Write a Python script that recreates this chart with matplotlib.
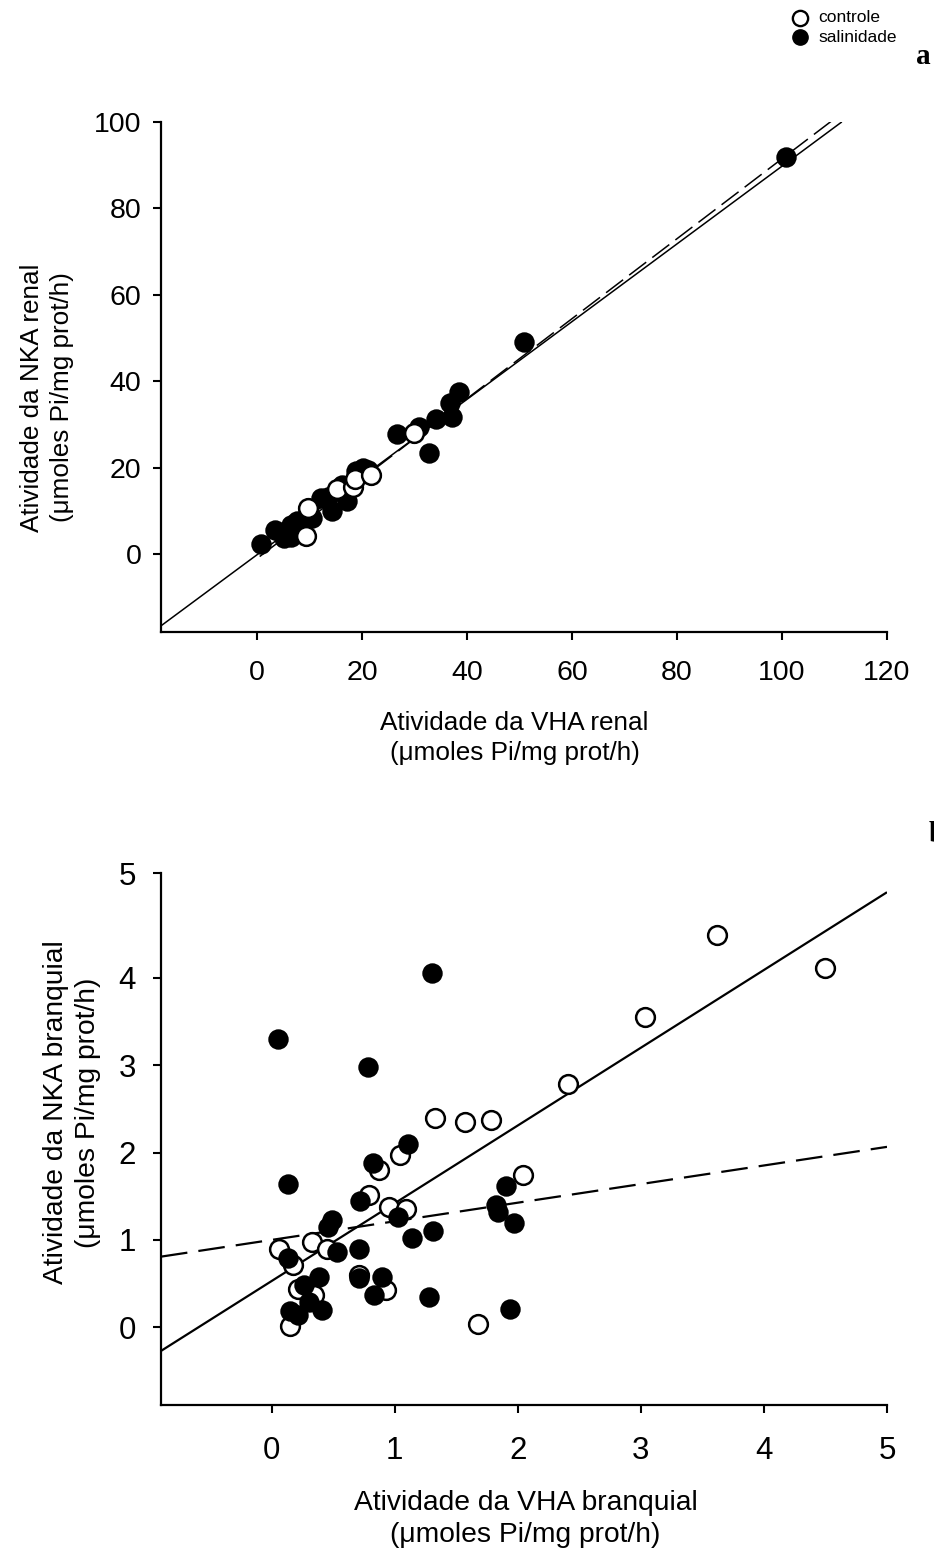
import matplotlib
matplotlib.use("Agg")
import matplotlib.pyplot as plt
import numpy as np

plt.rcParams['font.family'] = ['Liberation Sans', 'DejaVu Sans']

# ---------------- data: panel a (renal) ----------------
a_sal_x = [0.8, 3.4, 5.1, 6.5, 6.5, 7.6, 8.8, 9.7, 10.5, 12.2, 13.5, 14.3, 15.6, 16.2,
           17.1, 18.9, 20.2, 21.1, 26.7, 30.9, 32.8, 34.1, 37.1, 36.8, 38.5, 50.9, 100.8]
a_sal_y = [2.3, 5.5, 3.7, 3.9, 6.7, 7.6, 8.0, 9.2, 8.3, 12.9, 13.3, 9.9, 14.7, 15.9,
           12.4, 19.3, 20.0, 19.5, 27.8, 29.4, 23.4, 31.3, 31.7, 34.9, 37.5, 49.2, 92.0]
a_con_x = [9.3, 9.7, 15.2, 18.3, 18.7, 21.7, 29.9]
a_con_y = [4.1, 10.8, 15.2, 15.6, 17.5, 18.4, 28.0]
# regression lines (slope, intercept, x-range)
a_solid = (0.899, -0.12, -18.3, 111.4)
a_dash = (0.925, -1.0, 0.5, 110.0)

# ---------------- data: panel b (branquial) ----------------
b_sal_x = [1.30, 0.05, 0.78, 1.11, 0.82, 0.13, 0.72, 0.49, 0.46, 1.03, 1.90, 1.82, 1.84,
           1.97, 1.31, 1.14, 0.53, 0.71, 0.13, 0.38, 0.71, 0.90, 0.26, 0.83, 1.28, 0.30,
           0.15, 0.41, 0.21, 1.94]
b_sal_y = [4.05, 3.30, 2.98, 2.10, 1.88, 1.64, 1.44, 1.23, 1.15, 1.26, 1.62, 1.40, 1.32,
           1.19, 1.10, 1.02, 0.86, 0.90, 0.79, 0.58, 0.56, 0.58, 0.48, 0.37, 0.35, 0.29,
           0.19, 0.20, 0.14, 0.21]
b_con_x = [1.33, 1.57, 1.78, 1.04, 0.87, 2.04, 0.79, 0.95, 1.09, 0.33, 0.06, 0.45, 0.17,
           0.71, 0.93, 0.21, 0.34, 0.15, 1.68, 2.41, 3.03, 3.62, 4.50]
b_con_y = [2.40, 2.35, 2.37, 1.97, 1.80, 1.74, 1.51, 1.38, 1.35, 0.98, 0.90, 0.90, 0.71,
           0.60, 0.43, 0.44, 0.37, 0.02, 0.04, 2.79, 3.55, 4.49, 4.11]
b_solid = (0.89, 0.53, -0.9, 5.0)
b_dash = (0.213, 1.0, -0.9, 5.0)

a_xticks = [0, 20, 40, 60, 80, 100, 120]
a_yticks = [0, 20, 40, 60, 80, 100]
b_xticks = [0, 1, 2, 3, 4, 5]
# the reference draws its top "5" tick at the very top of the axis
b_yticks = [0, 1, 2, 3, 4, 5.2]
b_yticklabels = ['0', '1', '2', '3', '4', '5']

W, H = 934, 1550
fig = plt.figure(figsize=(W / 100, H / 100), dpi=100)


def add_ax(l, r, t, b):
    return fig.add_axes([l / W, 1 - b / H, (r - l) / W, (b - t) / H])


def style(ax, fs, xpad, ypad):
    for s in ['top', 'right']:
        ax.spines[s].set_visible(False)
    for s in ['left', 'bottom']:
        ax.spines[s].set_linewidth(1.6)
    ax.tick_params(direction='out', length=6, width=1.5, labelsize=fs)
    ax.tick_params(axis='x', pad=xpad)
    ax.tick_params(axis='y', pad=ypad)


def reg(ax, p, ls, lw, dashes=None):
    k, c, x0, x1 = p
    xs = np.array([x0, x1])
    line, = ax.plot(xs, k * xs + c, color='black', lw=lw, ls=ls, zorder=2,
                    solid_capstyle='butt')
    if dashes:
        line.set_dashes(dashes)


ms = 13.5
unit = '(μmoles Pi/mg prot/h)'
# ---- panel a ----
ax = add_ax(161, 887, 122, 632)
ax.set_xlim(-18.3, 120)
ax.set_ylim(-18, 100)
style(ax, 20.5, 14, 8)
ax.set_xticks(a_xticks)
ax.set_yticks(a_yticks)
reg(ax, a_solid, '-', 1.1)
reg(ax, a_dash, '--', 1.1, (14, 5))
ax.plot(a_sal_x, a_sal_y, 'o', ms=ms, mfc='black', mec='black', mew=1.2, zorder=3)
ax.plot(a_con_x, a_con_y, 'o', ms=ms, mfc='white', mec='black', mew=1.8, zorder=4)
ax.set_xlabel('Atividade da VHA renal\n' + unit, fontsize=18.8, linespacing=1.3)
ax.set_ylabel('Atividade da NKA renal\n' + unit, fontsize=18.8, linespacing=1.3)
ax.xaxis.set_label_coords(0.487, -0.155)
ax.yaxis.set_label_coords(-0.12, 0.46)

# ---- panel b ----
bx = add_ax(161, 887, 873, 1405)
bx.set_xlim(-0.9, 5)
bx.set_ylim(-0.89, 5.2)
style(bx, 22.5, 16, 12)
bx.set_xticks(b_xticks)
bx.set_yticks(b_yticks)
bx.set_yticklabels(b_yticklabels)
reg(bx, b_solid, '-', 1.6)
reg(bx, b_dash, '--', 1.6, (12, 5))
bx.plot(b_con_x, b_con_y, 'o', ms=ms, mfc='white', mec='black', mew=1.8, zorder=3)
bx.plot(b_sal_x, b_sal_y, 'o', ms=ms, mfc='black', mec='black', mew=1.2, zorder=4)
bx.set_xlabel('Atividade da VHA branquial\n' + unit, fontsize=20.3, linespacing=1.3)
bx.set_ylabel('Atividade da NKA branquial\n' + unit, fontsize=20.3, linespacing=1.3)
bx.xaxis.set_label_coords(0.502, -0.16)
bx.yaxis.set_label_coords(-0.083, 0.55)

# ---- legend (top right) ----
lg = fig.add_axes([0, 0, 1, 1], facecolor='none')
lg.set_xlim(0, W)
lg.set_ylim(H, 0)
lg.axis('off')
lg.plot([800], [18], 'o', ms=11, mfc='white', mec='black', mew=1.7)
lg.plot([800], [37], 'o', ms=11, mfc='black', mec='black')
lg.text(818, 18, 'controle', fontsize=12.5, va='center', ha='left')
lg.text(818, 38, 'salinidade', fontsize=12.5, va='center', ha='left')
lg.text(916, 64, 'a', fontsize=21, fontweight='bold', family='Liberation Serif', ha='left', va='baseline')
lg.text(929, 842, 'b', fontsize=21, fontweight='bold', family='Liberation Serif', ha='left', va='baseline')

fig.savefig('out.png', dpi=100)
